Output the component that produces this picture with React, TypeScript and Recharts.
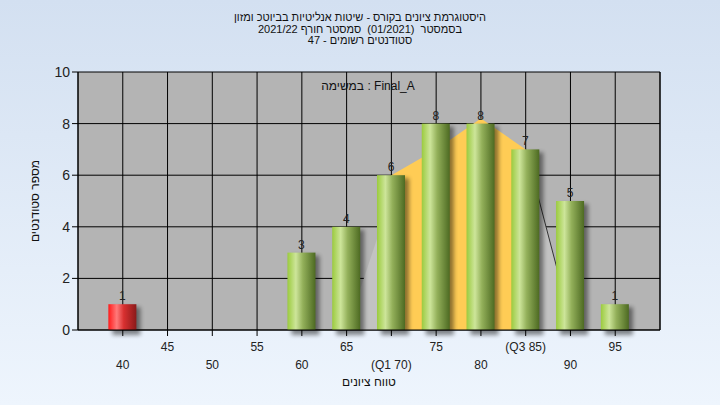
import React from 'react';
import { ComposedChart, Bar, Area, XAxis, YAxis, CartesianGrid, LabelList, Cell } from 'recharts';

// grade bins and how many students landed in each
const grades = [40, 45, 50, 55, 60, 65, 70, 75, 80, 85, 90, 95];
const gradeLabels = ['40', '45', '50', '55', '60', '65', '(Q1 70)', '75', '80', '(Q3 85)', '90', '95'];
const students = [1, 0, 0, 0, 3, 4, 6, 8, 8, 7, 5, 1];
// background shapes behind the bars
const spread = [null, null, null, null, null, 0, 5.2, null, null, 7, 0.4, null];
const iqr = [null, null, null, null, null, null, 6, 7, 8.2, 7, null, null];
const tail = [null, null, null, null, null, null, null, null, null, 7, 0.4, null];
const yTicks = [0, 2, 4, 6, 8, 10];

const titleLines = [
  'היסטוגרמת ציונים בקורס - שיטות אנליטיות בביוטכ ומזון',
  'בסמסטר  (01/2021)  סמסטר חורף 2021/22',
  'סטודנטים רשומים - 47',
];
const taskLabel = 'במשימה : Final_A';
const PASS_GRADE = 55;

const rows = grades.map((g, i) => ({
  grade: g,
  students: students[i],
  spread: spread[i],
  iqr: iqr[i],
  tail: tail[i],
}));

const FONT = '"Liberation Sans", Arial, sans-serif';

const XTick = (props: any) => {
  const { x, y, payload } = props;
  const i = grades.indexOf(payload.value);
  const upper = i % 2 === 1;
  return (
    <text x={x} y={y + (upper ? 13 : 31)} textAnchor="middle" fontSize={12} fill="#222" fontFamily={FONT}>
      {gradeLabels[i]}
    </text>
  );
};

const CylinderBar = (props: any) => {
  const { x, y, width, height, fill } = props;
  if (!height || height <= 0) return <g />;
  return (
    <g>
      <rect x={x + 4} y={y + 3} width={width} height={height + 2} fill="#000" opacity={0.45} filter="url(#barShadow)" />
      <rect x={x} y={y} width={width} height={height} fill={fill} />
    </g>
  );
};

export default function App() {
  return (
    <div
      style={{
        position: 'absolute',
        left: 0,
        top: 0,
        width: 720,
        height: 405,
        background: 'linear-gradient(#d3e0f1, #eef5fd)',
        fontFamily: FONT,
      }}
    >
      <div
        dir="rtl"
        style={{ position: 'absolute', top: 12, width: 720, textAlign: 'center', fontSize: 11, lineHeight: '11.5px', color: '#111', whiteSpace: 'pre' }}
      >
        {titleLines.map((t) => (
          <div key={t}>{t}</div>
        ))}
      </div>
      <ComposedChart width={720} height={405} data={rows} margin={{ top: 72, right: 0, bottom: 0, left: 0 }}>
        <defs>
          <linearGradient id="greenBar" x1="0" y1="0" x2="1" y2="0">
            <stop offset="0%" stopColor="#9bcb3e" />
            <stop offset="30%" stopColor="#cde59a" />
            <stop offset="55%" stopColor="#93b05a" />
            <stop offset="100%" stopColor="#4d6a22" />
          </linearGradient>
          <linearGradient id="redBar" x1="0" y1="0" x2="1" y2="0">
            <stop offset="0%" stopColor="#ff1a1a" />
            <stop offset="30%" stopColor="#ff7a7a" />
            <stop offset="55%" stopColor="#d83030" />
            <stop offset="100%" stopColor="#8a1a1a" />
          </linearGradient>
          <filter id="barShadow" x="-50%" y="-20%" width="200%" height="140%">
            <feGaussianBlur stdDeviation="2" />
          </filter>
        </defs>
        <CartesianGrid stroke="#000" strokeOpacity={1} fill="#b4b4b4" fillOpacity={1} yAxisId="left" />
        <XAxis
          dataKey="grade"
          type="number"
          domain={[35, 100]}
          ticks={grades}
          interval={0}
          height={75}
          stroke="#000"
          tickLine={{ stroke: '#000' }}
          tick={<XTick />}
          label={{ value: 'טווח ציונים', position: 'insideBottom', offset: 19, fontSize: 12, fill: '#111', fontFamily: FONT }}
        />
        <YAxis
          yAxisId="left"
          width={78}
          domain={[0, 10]}
          ticks={yTicks}
          stroke="#000"
          tickLine={{ stroke: '#000' }}
          tick={{ fontSize: 14, fill: '#222', fontFamily: FONT }}
          label={{ value: 'מספר סטודנטים', angle: -90, position: 'insideLeft', offset: 35, fontSize: 12, fill: '#111', fontFamily: FONT, style: { textAnchor: 'middle' } }}
        />
        <YAxis
          yAxisId="right"
          orientation="right"
          width={60}
          domain={[0, 10]}
          ticks={yTicks}
          stroke="#000"
          tickLine={{ stroke: '#000' }}
          tick={{ fontSize: 14, fill: '#222', fontFamily: FONT }}
        />
        <Area yAxisId="left" type="linear" dataKey="spread" connectNulls fill="#c2c2c2" fillOpacity={1} stroke="none" isAnimationActive={false} />
        <Area yAxisId="left" type="linear" dataKey="iqr" fill="#ffcc55" fillOpacity={1} stroke="none" isAnimationActive={false} />
        <Area yAxisId="left" type="linear" dataKey="tail" fill="none" stroke="#333" strokeWidth={1} dot={false} isAnimationActive={false} />
        <Bar yAxisId="left" dataKey="students" barSize={28} shape={<CylinderBar />} isAnimationActive={false}>
          {rows.map((r) => (
            <Cell key={r.grade} fill={r.grade < PASS_GRADE ? 'url(#redBar)' : 'url(#greenBar)'} />
          ))}
          <LabelList
            dataKey="students"
            position="top"
            offset={4}
            formatter={(v: any) => (v ? v : '')}
            style={{ fontSize: 12, fill: '#222', fontFamily: FONT }}
          />
        </Bar>
      </ComposedChart>
      <div style={{ position: 'absolute', top: 79, left: 0, width: 736, textAlign: 'center', fontSize: 12, color: '#111' }}>
        {taskLabel}
      </div>
    </div>
  );
}
